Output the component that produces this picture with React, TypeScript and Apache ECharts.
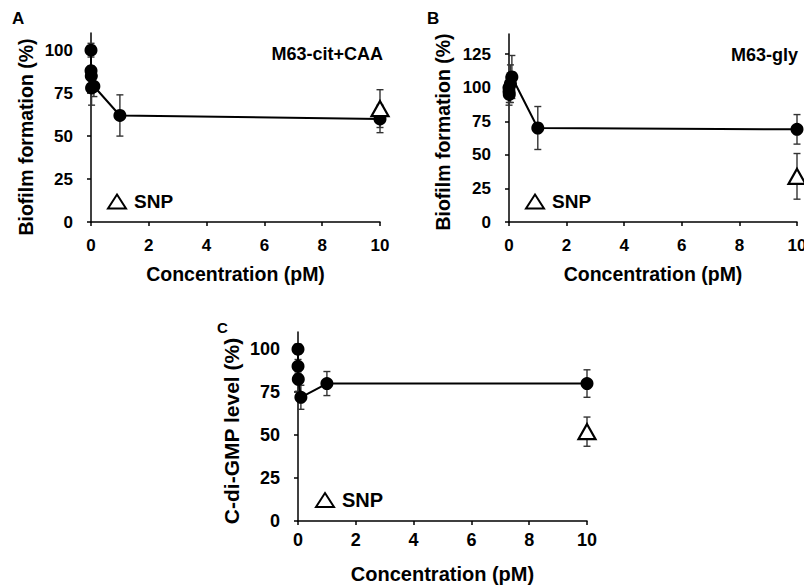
import React, { useEffect, useRef } from "react";
import * as echarts from "echarts";

// ---- Data ----
const concA = [0, 0.001, 0.01, 0.02, 0.1, 1, 10];
const biofilmA = [100, 88, 85, 78, 79, 62, 60];
const errA = [4, 3, 3, 10, 6, 12, 8];
const snpA = 66;
const snpErrA = 11;

const concB = [0, 0.001, 0.01, 0.05, 0.1, 1, 10];
const biofilmB = [100, 97, 95, 103, 108, 70, 69];
const errB = [8, 10, 6, 14, 16, 16, 11];
const snpB = 34;
const snpErrB = 17;

const concC = [0, 0.001, 0.01, 0.1, 1, 10];
const cdgC = [100, 90, 82.5, 72, 80, 80];
const errC = [3, 4, 7, 7, 7, 8];
const snpC = 52;
const snpErrC = 8.5;

const snpConc = 10;
const xTicks = [0, 2, 4, 6, 8, 10];
const yTicksA = [0, 25, 50, 75, 100];
const yTicksB = [0, 25, 50, 75, 100, 125];
const yTicksC = [0, 25, 50, 75, 100];

const FONT = '"Liberation Sans", Arial, sans-serif';

function errData(xs: number[], ys: number[], es: number[]) {
  return xs.map((x, i) => [x, ys[i] - es[i], ys[i] + es[i]]);
}

const errRender = (params: any, api: any) => {
  const x = api.value(0);
  const lo = api.value(1);
  const hi = api.value(2);
  const p1 = api.coord([x, lo]);
  const p2 = api.coord([x, hi]);
  const w = 3.5;
  const style = { stroke: "#333", lineWidth: 1.4 };
  return {
    type: "group",
    children: [
      { type: "line", shape: { x1: p1[0], y1: p1[1], x2: p2[0], y2: p2[1] }, style },
      { type: "line", shape: { x1: p1[0] - w, y1: p1[1], x2: p1[0] + w, y2: p1[1] }, style },
      { type: "line", shape: { x1: p2[0] - w, y1: p2[1], x2: p2[0] + w, y2: p2[1] }, style },
    ],
  };
};

function xAxis(gridIndex: number, fs: number, nfs: number, margin: number, gap: number) {
  return {
    type: "value",
    gridIndex,
    min: 0,
    max: 10,
    name: "Concentration (pM)",
    nameLocation: "middle",
    nameGap: gap,
    nameTextStyle: { fontFamily: FONT, fontWeight: "bold", fontSize: nfs, color: "#000" },
    axisLine: { show: true, lineStyle: { color: "#000", width: 1.5 } },
    axisTick: { show: true, length: 4, customValues: xTicks, lineStyle: { color: "#000", width: 1.5 } },
    axisLabel: { customValues: xTicks, margin, fontFamily: FONT, fontWeight: "bold", fontSize: fs, color: "#000" },
    splitLine: { show: false },
  };
}

function yAxis(gridIndex: number, max: number, ticks: number[], fs: number) {
  return {
    type: "value",
    gridIndex,
    min: 0,
    max,
    axisLine: { show: true, lineStyle: { color: "#000", width: 1.5 } },
    axisTick: { show: true, length: 4, customValues: ticks, lineStyle: { color: "#000", width: 1.5 } },
    axisLabel: { customValues: ticks, margin: 18, fontFamily: FONT, fontWeight: "bold", fontSize: fs, color: "#000" },
    splitLine: { show: false },
  };
}

function panelSeries(idx: number, xs: number[], ys: number[], es: number[], snp: number, snpErr: number) {
  return [
    {
      type: "custom",
      xAxisIndex: idx,
      yAxisIndex: idx,
      renderItem: errRender,
      data: [...errData(xs, ys, es), [snpConc, snp - snpErr, snp + snpErr]],
      encode: { x: 0, y: [1, 2] },
      z: 1,
      clip: false,
    },
    {
      type: "line",
      xAxisIndex: idx,
      yAxisIndex: idx,
      data: xs.map((x, i) => [x, ys[i]]),
      symbol: "circle",
      symbolSize: 13,
      showSymbol: true,
      itemStyle: { color: "#000", opacity: 1 },
      lineStyle: { color: "#000", width: 2 },
      z: 3,
      clip: false,
    },
    {
      type: "scatter",
      name: "SNP",
      xAxisIndex: idx,
      yAxisIndex: idx,
      data: [[snpConc, snp]],
      symbol: "triangle",
      symbolSize: [17, 15],
      itemStyle: { color: "#fff", borderColor: "#000", borderWidth: 2.2, opacity: 1 },
      z: 4,
      clip: false,
    },
  ];
}

function legend(left: number, top: number, fs: number) {
  return {
    left,
    top,
    padding: 0,
    data: ["SNP"],
    itemWidth: 18,
    itemHeight: 14,
    selectedMode: false,
    itemStyle: { borderWidth: 2, borderColor: "#000", color: "#fff", opacity: 1 },
    textStyle: { fontFamily: FONT, fontWeight: "bold", fontSize: fs, color: "#000", padding: [0, 0, 0, 3] },
  };
}

function vTitle(text: string, x: number, y: number, fs: number) {
  return {
    type: "text",
    x,
    y,
    rotation: Math.PI / 2,
    style: { text, font: `bold ${fs}px ${FONT}`, fill: "#000", align: "center", verticalAlign: "middle" },
  };
}

export default function App() {
  const ref = useRef<HTMLDivElement>(null);
  useEffect(() => {
    if (!ref.current) return;
    const chart = echarts.init(ref.current, undefined, { renderer: "svg" });
    chart.setOption({
      animation: false,
      backgroundColor: "#fff",
      grid: [
        { left: 91, top: 33, width: 289, height: 189, outerBoundsMode: "none", containLabel: false },
        { left: 509, top: 34, width: 288, height: 188, outerBoundsMode: "none", containLabel: false },
        { left: 298, top: 332, width: 289, height: 189, outerBoundsMode: "none", containLabel: false },
      ],
      xAxis: [xAxis(0, 17, 19.5, 15, 42), xAxis(1, 17, 19.5, 15, 42), xAxis(2, 18, 20, 10, 43)],
      yAxis: [yAxis(0, 110, yTicksA, 17), yAxis(1, 140, yTicksB, 17), yAxis(2, 110, yTicksC, 18)],
      legend: [legend(107, 192, 19), legend(525, 192, 19), legend(315, 490, 20)],
      series: [
        ...panelSeries(0, concA, biofilmA, errA, snpA, snpErrA),
        ...panelSeries(1, concB, biofilmB, errB, snpB, snpErrB),
        ...panelSeries(2, concC, cdgC, errC, snpC, snpErrC),
      ],
      graphic: [
        vTitle("Biofilm formation (%)", 26, 137, 19.5),
        vTitle("Biofilm formation (%)", 443, 132, 19.5),
        vTitle("C-di-GMP level (%)", 231, 431, 21),
        { type: "text", x: 12, y: 18.5, style: { text: "A", font: `bold 17px ${FONT}`, fill: "#000", verticalAlign: "middle" } },
        { type: "text", x: 427, y: 18.5, style: { text: "B", font: `bold 17px ${FONT}`, fill: "#000", verticalAlign: "middle" } },
        { type: "text", x: 217, y: 327, style: { text: "C", font: `bold 15px ${FONT}`, fill: "#000", verticalAlign: "middle" } },
        { type: "text", x: 383, y: 54, style: { text: "M63-cit+CAA", font: `bold 18px ${FONT}`, fill: "#000", align: "right", verticalAlign: "middle" } },
        { type: "text", x: 798, y: 55, style: { text: "M63-gly", font: `bold 18px ${FONT}`, fill: "#000", align: "right", verticalAlign: "middle" } },
      ],
    });
    return () => chart.dispose();
  }, []);
  return <div ref={ref} style={{ position: "fixed", left: 0, top: 0, width: 804, height: 585, background: "#fff" }} />;
}
